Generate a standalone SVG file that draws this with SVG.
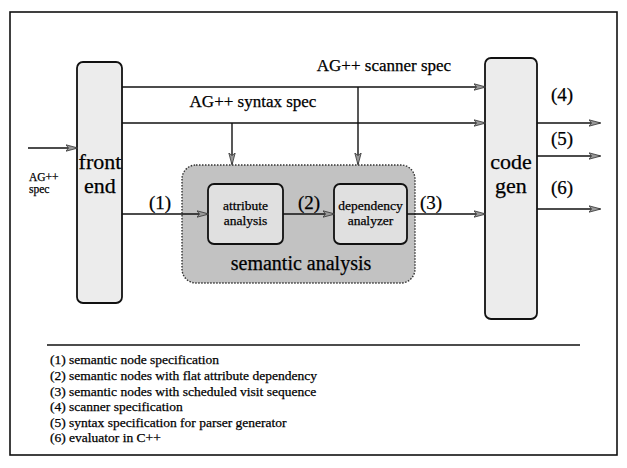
<svg xmlns="http://www.w3.org/2000/svg" width="627" height="468" viewBox="0 0 627 468">
  <style>
    .frame { fill: #ffffff; stroke: #111; stroke-width: 1.6; }
    .stage { fill: #ececec; stroke: #111; stroke-width: 1.8; }
    .group { fill: #c2c2c2; stroke: #333; stroke-width: 1.4; stroke-dasharray: 1.5 1.5; }
    .inner { fill: #e0e0e0; stroke: #111; stroke-width: 1.8; }
    .wire { fill: none; stroke: #111; stroke-width: 1.4; marker-end: url(#head); }
    .rule { stroke: #111; stroke-width: 1.6; }
    text { font-family: "Liberation Serif", "Times New Roman", serif; fill: #000; stroke: #000; stroke-width: 0.25; }
    .big { font-size: 22px; text-anchor: middle; }
    .lbl { font-size: 17px; text-anchor: middle; }
    .num { font-size: 19px; text-anchor: middle; }
    .title { font-size: 20px; text-anchor: middle; }
    .small { font-size: 13.5px; text-anchor: middle; }
    .tiny { font-size: 11.5px; }
    .note { font-size: 13.5px; }
  </style>
  <defs>
    <marker id="head" viewBox="0 0 12 8" refX="11" refY="4" markerWidth="12" markerHeight="8" markerUnits="userSpaceOnUse" orient="auto">
      <path d="M0,0.8 L12,4 L0,7.2 L2.5,4 Z" fill="#999" stroke="#333" stroke-width="0.8"/>
    </marker>
  </defs>

  <rect class="frame" x="10" y="12" width="607" height="443"/>

  <!-- pipeline stages -->
  <g id="front-end">
    <rect class="stage" x="77" y="62" width="45" height="241" rx="6"/>
    <text class="big" x="100" y="169">front</text>
    <text class="big" x="100" y="193">end</text>
  </g>

  <g id="semantic-analysis">
    <rect class="group" x="182" y="165" width="233" height="118" rx="14"/>
    <text class="title" x="301" y="270">semantic analysis</text>
  </g>

  <g id="attribute-analysis">
    <rect class="inner" x="208" y="184" width="75" height="60" rx="6"/>
    <text class="small" x="245.5" y="210">attribute</text>
    <text class="small" x="245.5" y="225">analysis</text>
  </g>

  <g id="dependency-analyzer">
    <rect class="inner" x="334" y="184" width="73" height="60" rx="6"/>
    <text class="small" x="370.5" y="210">dependency</text>
    <text class="small" x="370.5" y="225">analyzer</text>
  </g>

  <g id="code-gen">
    <rect class="stage" x="485" y="58" width="52" height="261" rx="6"/>
    <text class="big" x="511" y="169">code</text>
    <text class="big" x="511" y="193">gen</text>
  </g>

  <!-- connectors -->
  <g id="connectors">
    <line class="wire" x1="28" y1="148" x2="77" y2="148"/>
    <line class="wire" x1="122" y1="87" x2="485" y2="87"/>
    <line class="wire" x1="122" y1="123" x2="485" y2="123"/>
    <line class="wire" x1="232" y1="123" x2="232" y2="164"/>
    <line class="wire" x1="358" y1="87" x2="358" y2="164"/>
    <line class="wire" x1="122" y1="214" x2="208" y2="214"/>
    <line class="wire" x1="283" y1="214" x2="334" y2="214"/>
    <line class="wire" x1="407" y1="214" x2="485" y2="214"/>
    <line class="wire" x1="537" y1="123" x2="600" y2="123"/>
    <line class="wire" x1="537" y1="156" x2="600" y2="156"/>
    <line class="wire" x1="537" y1="209" x2="600" y2="209"/>

    <text class="lbl" x="384" y="71">AG++ scanner spec</text>
    <text class="lbl" x="253" y="107">AG++ syntax spec</text>
    <text class="tiny" x="29" y="181">AG++</text>
    <text class="tiny" x="29" y="193">spec</text>
    <text class="num" x="160" y="209">(1)</text>
    <text class="num" x="309" y="209">(2)</text>
    <text class="num" x="431" y="209">(3)</text>
    <text class="num" x="562" y="101">(4)</text>
    <text class="num" x="562" y="145">(5)</text>
    <text class="num" x="562" y="194">(6)</text>
  </g>

  <!-- legend -->
  <line class="rule" x1="47" y1="345" x2="580" y2="345"/>
  <text class="note" x="50" y="364">(1) semantic node specification</text>
  <text class="note" x="50" y="380">(2) semantic nodes with flat attribute dependency</text>
  <text class="note" x="50" y="396">(3) semantic nodes with scheduled visit sequence</text>
  <text class="note" x="50" y="411">(4) scanner specification</text>
  <text class="note" x="50" y="427">(5) syntax specification for parser generator</text>
  <text class="note" x="50" y="442">(6) evaluator in C++</text>
</svg>
